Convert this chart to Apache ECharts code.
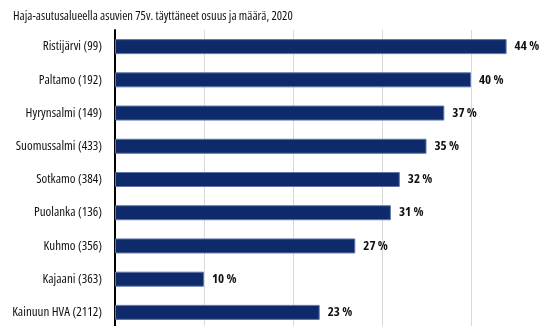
<!DOCTYPE html>
<html>
<head>
<meta charset="utf-8">
<script src="https://cdn.jsdelivr.net/npm/echarts@6/dist/echarts.min.js"></script>
<style>
  html, body { margin: 0; padding: 0; background: #fff; }
  #chart { width: 549px; height: 326px; }
</style>
</head>
<body>
<div id="chart"></div>
<script>
// Kunnat ja haja-asutusalueella asuvien 75 vuotta täyttäneiden määrä
const categories = [
  'Ristijärvi (99)',
  'Paltamo (192)',
  'Hyrynsalmi (149)',
  'Suomussalmi (433)',
  'Sotkamo (384)',
  'Puolanka (136)',
  'Kuhmo (356)',
  'Kajaani (363)',
  'Kainuun HVA (2112)'
];
// Osuus, %
const shares = [44, 40, 37, 35, 32, 31, 27, 10, 23];
const titleText = 'Haja-asutusalueella asuvien 75v. täyttäneet osuus ja määrä, 2020';

// Choose the narrowest installed face (optionally with a condensed stretch)
function pickFont() {
  const ctx = document.createElement('canvas').getContext('2d');
  const sample = 'Ristijärvi (99) Haja-asutusalueella';
  const options = [
    ['normal', 'Liberation Sans Narrow'],
    ['normal', 'DejaVu Sans Condensed'],
    ['condensed', 'DejaVu Sans'],
    ['condensed', 'Noto Sans'],
    ['condensed', 'Open Sans'],
    ['condensed', 'Roboto'],
    ['condensed', 'Inter'],
    ['normal', 'Lato'],
    ['normal', 'Roboto'],
    ['normal', 'Liberation Sans']
  ];
  let best = null;
  for (const [stretch, fam] of options) {
    ctx.font = stretch + ' 20px monospace';
    const wm = ctx.measureText(sample).width;
    ctx.font = stretch + ' 20px serif';
    const ws = ctx.measureText(sample).width;
    ctx.font = stretch + ' 20px "' + fam + '", monospace';
    const w1 = ctx.measureText(sample).width;
    ctx.font = stretch + ' 20px "' + fam + '", serif';
    const w2 = ctx.measureText(sample).width;
    if (w1 === wm && w2 === ws) continue;
    if (!best || w1 < best.w) best = { w: w1, stretch, fam };
  }
  return best ? { stretch: best.stretch, family: '"' + best.fam + '", sans-serif' }
              : { stretch: 'normal', family: 'sans-serif' };
}
const face = pickFont();

const chart = echarts.init(document.getElementById('chart'));
chart.setOption({
  animation: false,
  textStyle: { fontFamily: face.family, fontStyle: face.stretch },
  title: {
    text: titleText,
    left: 8,
    top: 5,
    textStyle: { fontFamily: face.family, fontStyle: face.stretch, fontSize: 12.5, fontWeight: 'normal', color: '#111' }
  },
  grid: { left: 115, right: -11, top: 30, bottom: -3, containLabel: false, outerBoundsMode: 'none' },
  xAxis: {
    type: 'value',
    min: 0,
    max: 50,
    interval: 10,
    axisLine: { show: false },
    axisTick: { show: false },
    axisLabel: { show: false },
    splitLine: { lineStyle: { color: '#d9d9d9', width: 1 } }
  },
  yAxis: {
    type: 'category',
    inverse: true,
    data: categories,
    axisLine: { show: true, lineStyle: { color: '#000', width: 2 } },
    axisTick: { show: false },
    axisLabel: { margin: 13, fontSize: 13, color: '#111', fontFamily: face.family, fontStyle: face.stretch }
  },
  series: [{
    type: 'bar',
    data: shares,
    barWidth: 15,
    itemStyle: { color: '#0f2a6b', borderColor: '#5f75ab', borderWidth: 1 },
    label: {
      show: true,
      position: 'right',
      distance: 8,
      formatter: p => p.value + ' %',
      fontFamily: face.family,
      fontStyle: face.stretch,
      fontSize: 13,
      fontWeight: 'bold',
      color: '#111'
    }
  }]
});
</script>
</body>
</html>
